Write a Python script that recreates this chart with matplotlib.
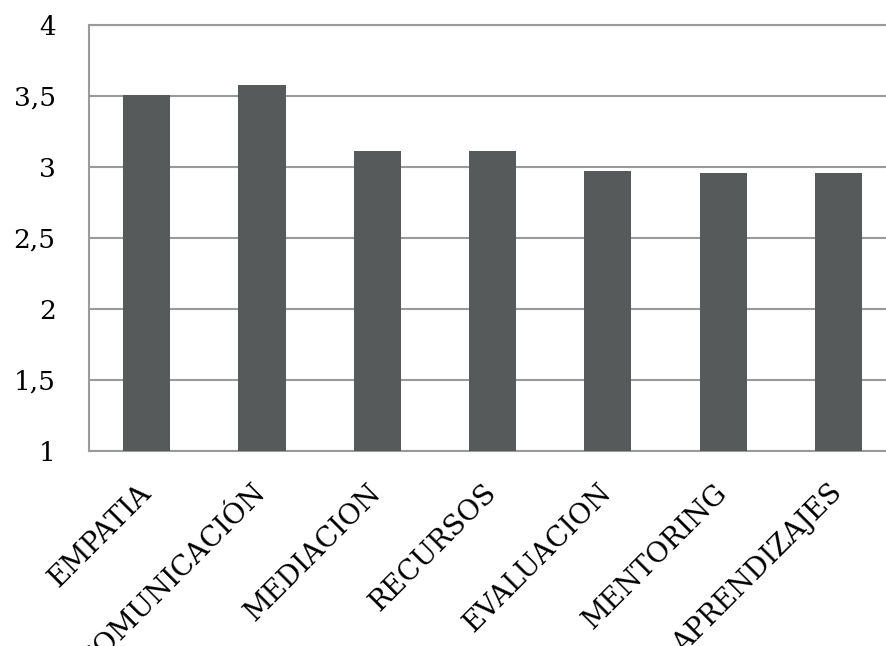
import matplotlib
matplotlib.use('Agg')
import matplotlib.pyplot as plt

# categorias y valores medios
categorias = ['EMPATIA', 'COMUNICACIÓN', 'MEDIACION', 'RECURSOS',
              'EVALUACION', 'MENTORING', 'APRENDIZAJES']
valores = [3.51, 3.58, 3.11, 3.11, 2.97, 2.96, 2.96]
ticks_y = [1, 1.5, 2, 2.5, 3, 3.5, 4]
etiquetas_y = ['1', '1,5', '2', '2,5', '3', '3,5', '4']

plt.rcParams['font.family'] = ['DejaVu Serif']

fig = plt.figure(figsize=(8.86, 6.46), dpi=100)
# el grafico original esta recortado por la derecha
ax = fig.add_axes([0.1004, 0.3019, 0.911, 0.6594])

ax.bar(range(len(categorias)), valores, width=0.41, bottom=0,
       color='#575a5a', zorder=3)
ax.set_ylim(1, 4)
ax.set_xlim(-0.5, len(categorias) - 0.5)

ax.set_yticks(ticks_y)
ax.set_yticklabels(etiquetas_y, fontsize=19)
ax.set_xticks(range(len(categorias)))
ax.set_xticklabels(categorias, rotation=45, ha='right', va='center',
                   rotation_mode='anchor', fontsize=20)

ax.yaxis.grid(True, color='#9a9a9a', linewidth=1.5, zorder=0)
ax.tick_params(axis='y', length=0, pad=24)
ax.tick_params(axis='x', length=0, pad=27)
ax.spines['right'].set_visible(False)
for lado in ['left', 'bottom', 'top']:
    ax.spines[lado].set_color('#9a9a9a')
    ax.spines[lado].set_linewidth(1.5)

fig.savefig('out.png', dpi=100)
